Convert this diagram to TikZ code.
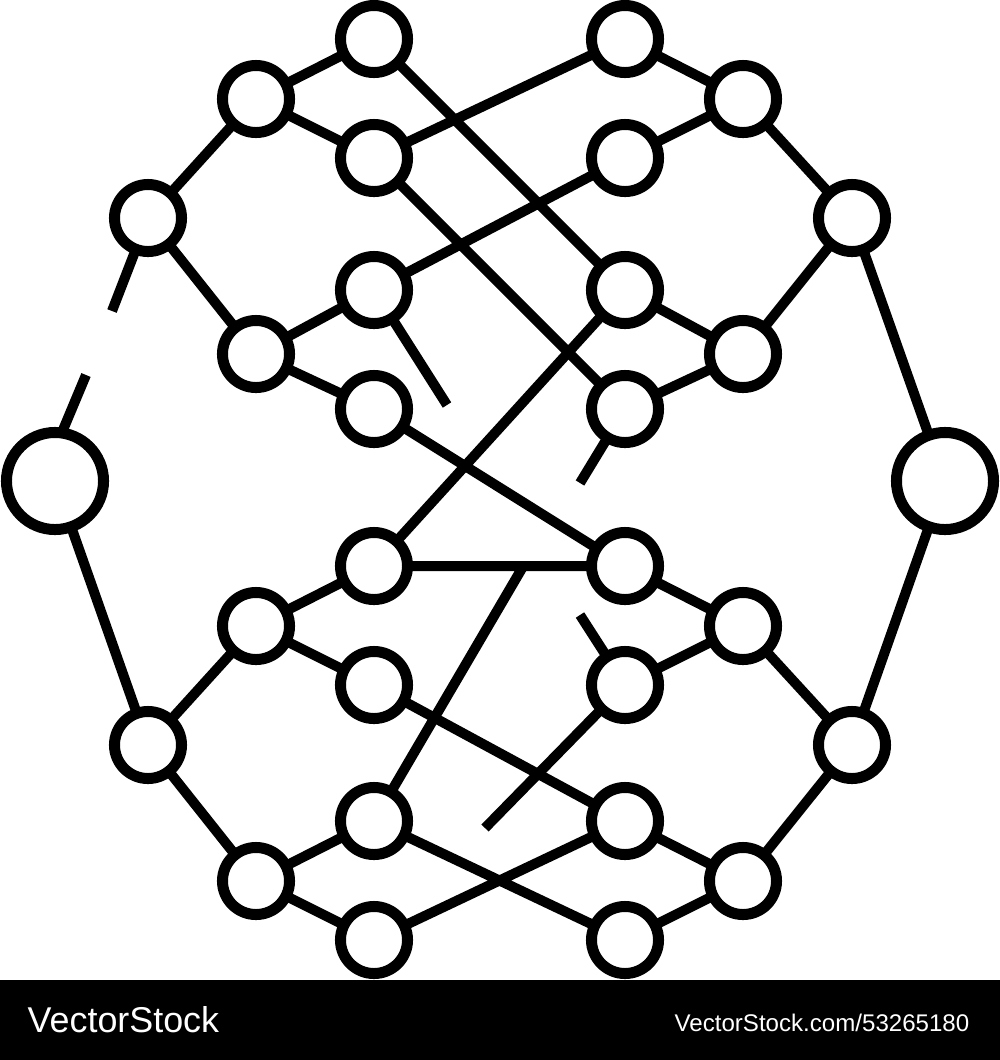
\documentclass[tikz,border=0pt]{standalone}
\usepackage{fontspec}
\setmainfont{Liberation Sans}
\usetikzlibrary{calc}

\begin{document}
\begin{tikzpicture}[x=0.01cm,y=-0.01cm]
\tikzstyle{dot}=[circle,draw,fill=white,line width=0.11cm,inner sep=0pt,outer sep=0pt,minimum size=0.67cm]
\tikzstyle{bigdot}=[dot,minimum size=0.97cm]
\tikzstyle{link}=[line width=0.1cm]

\useasboundingbox (0,0) rectangle (1000,1060);

% upper half
\node(lt1) [dot] at (374,39) {};
\node(lt2) [dot] at (256,99) {};
\node(lt3) [dot] at (374,158) {};
\node(lt4) [dot] at (148,218) {};
\node(lt5) [dot] at (374,290) {};
\node(lt6) [dot] at (256,354) {};
\node(lt7) [dot] at (374,409) {};

\node(rt1) [dot] at (625,39) {};
\node(rt2) [dot] at (743,99) {};
\node(rt3) [dot] at (625,158) {};
\node(rt4) [dot] at (852,218) {};
\node(rt5) [dot] at (625,290) {};
\node(rt6) [dot] at (743,354) {};
\node(rt7) [dot] at (625,409) {};

\node(L) [bigdot] at (55,481) {};
\node(R) [bigdot] at (945,481) {};

% lower half
\node(lb1) [dot] at (374,566) {};
\node(lb2) [dot] at (256,626) {};
\node(lb3) [dot] at (374,685) {};
\node(lb4) [dot] at (148,745) {};
\node(lb5) [dot] at (374,821) {};
\node(lb6) [dot] at (256,881) {};
\node(lb7) [dot] at (374,940) {};

\node(rb1) [dot] at (625,566) {};
\node(rb2) [dot] at (743,626) {};
\node(rb3) [dot] at (625,685) {};
\node(rb4) [dot] at (852,745) {};
\node(rb5) [dot] at (625,821) {};
\node(rb6) [dot] at (743,881) {};
\node(rb7) [dot] at (625,940) {};

\coordinate (g1) at (112,311);
\coordinate (g2) at (86,375);
\coordinate (j) at ($(lb1)!0.595!(rb1)$);
\coordinate (s1) at (447,405);
\coordinate (s2) at (580,483);
\coordinate (s3) at (580,615);
\coordinate (s4) at (485,828);

\draw[link] (lt1)--(lt2) (lt2)--(lt3) (lt2)--(lt4) (lt4)--(lt6);
\draw[link] (lt5)--(lt6) (lt6)--(lt7);
\draw[link] (rt1)--(rt2) (rt2)--(rt3) (rt2)--(rt4) (rt4)--(rt6);
\draw[link] (rt5)--(rt6) (rt6)--(rt7);
\draw[link] (lt1)--(rt5) (lt3)--(rt1) (lt3)--(rt7) (rt3)--(lt5);
\draw[link] (lt7)--(rb1) (rt5)--(lb1);
\draw[link] (lt5)--(s1) (rt7)--(s2);

\draw[link] (lt4)--(g1) (g2)--(L.82);
\draw[link] (L)--(lb4) (rt4)--(R) (R)--(rb4);

\draw[link] (lb1)--(lb2) (lb2)--(lb3) (lb2)--(lb4) (lb4)--(lb6);
\draw[link] (lb5)--(lb6) (lb6)--(lb7);
\draw[link] (rb1)--(rb2) (rb2)--(rb3) (rb2)--(rb4) (rb4)--(rb6);
\draw[link] (rb5)--(rb6) (rb6)--(rb7);
\draw[link] (lb1)--(rb1) (lb5)--(j);
\draw[link] (lb3)--(rb5) (lb5)--(rb7) (lb7)--(rb5);
\draw[link] (rb3)--(s3) (rb3)--(s4);

% footer
\fill (0,980) rectangle (1000,1060);
\node(brand) [anchor=base west,inner sep=0pt,text=white,font=\fontsize{10.2}{12}\selectfont] at (27,1032) {VectorStock};
\node(url) [anchor=base east,inner sep=0pt,text=white,font=\fontsize{6.85}{8}\selectfont] at (970,1031) {VectorStock.com/53265180};

\end{tikzpicture}
\end{document}
